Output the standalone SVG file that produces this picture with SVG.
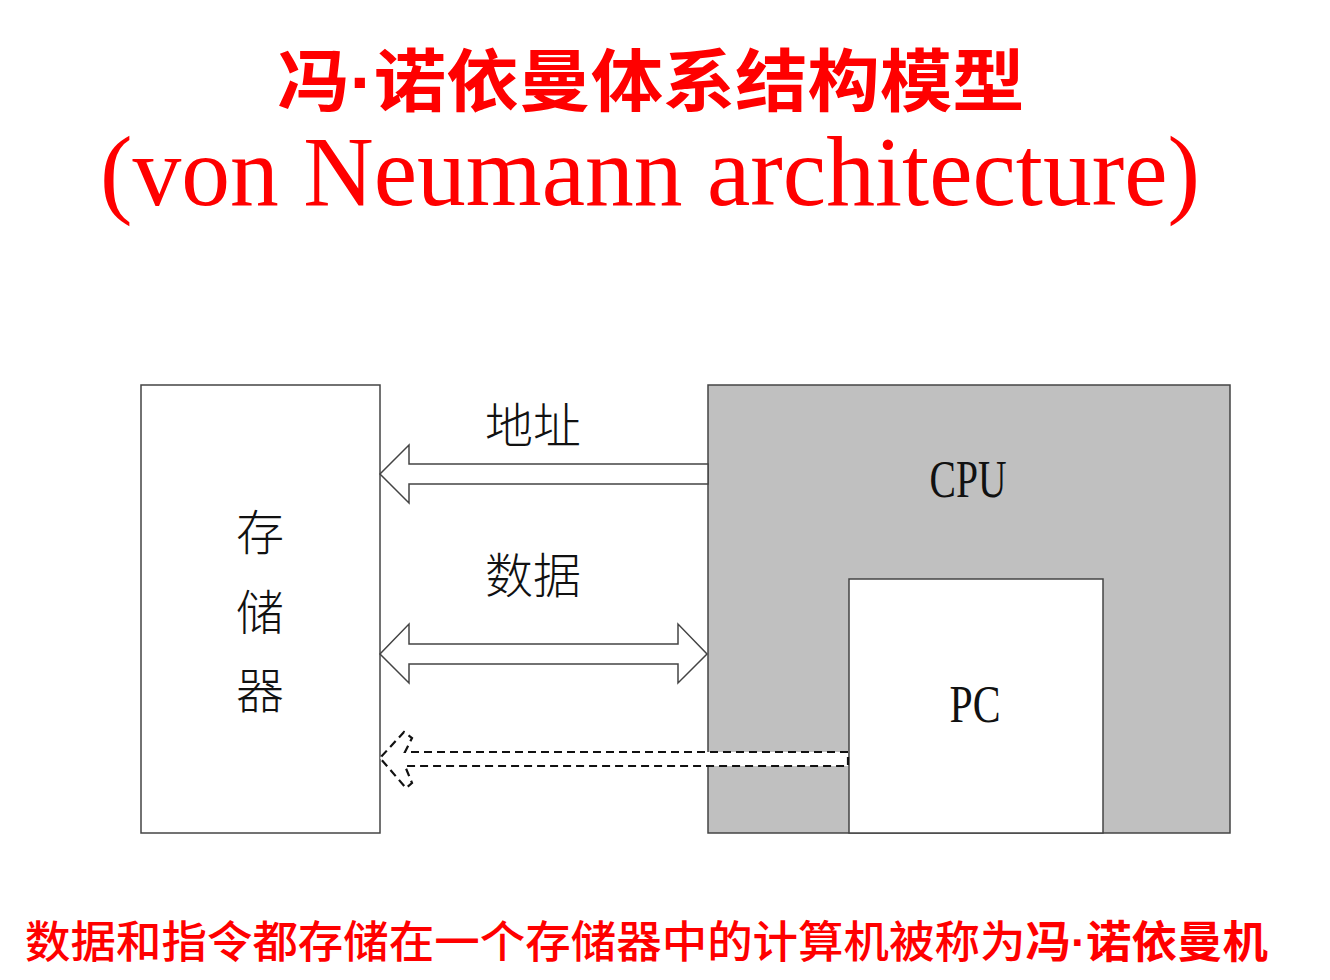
<svg xmlns="http://www.w3.org/2000/svg" width="1330" height="980" viewBox="0 0 1330 980">
<style>
.box{stroke:#444;stroke-width:1.5}
.cjk{font-family:"Noto Sans CJK SC","Noto Sans CJK JP",sans-serif}
.dot{font-family:"Liberation Sans",sans-serif}
.lbl{font-family:"Noto Sans CJK SC",sans-serif;font-size:48px;fill:#111;font-weight:300}
.lat{font-family:"Liberation Serif",serif;fill:#111}
.arr{fill:#fff;stroke:#444;stroke-width:1.5;stroke-linejoin:miter}
.dash{fill:#fff;stroke:#111;stroke-width:2.2;stroke-dasharray:8,5}
.red{fill:#ff0000}
</style>
<rect width="1330" height="980" fill="#fff"/>
<g id="title">
<text x="651" y="106" class="cjk red" font-size="68" font-weight="bold" text-anchor="middle" textLength="747" lengthAdjust="spacingAndGlyphs">冯<tspan class="dot">·</tspan>诺依曼体系结构模型</text>
<text x="650" y="205" font-family="Liberation Serif,serif" class="red" font-size="100" text-anchor="middle" textLength="1100" lengthAdjust="spacingAndGlyphs">(von Neumann architecture)</text>
</g>
<g id="memory">
<rect class="box" x="141" y="385" width="239" height="448" fill="#fff"/>
<text class="lbl" x="260" y="550" text-anchor="middle">存</text>
<text class="lbl" x="260" y="630" text-anchor="middle">储</text>
<text class="lbl" x="260" y="708" text-anchor="middle">器</text>
</g>
<g id="cpu">
<rect class="box" x="708" y="385" width="522" height="448" fill="#c0c0c0"/>
<text class="lat" x="968" y="497" font-size="52" text-anchor="middle" textLength="77" lengthAdjust="spacingAndGlyphs">CPU</text>
</g>
<g id="pc">
<rect class="box" x="849" y="579" width="254" height="254" fill="#fff"/>
<text class="lat" x="975" y="722" font-size="52" text-anchor="middle" textLength="51" lengthAdjust="spacingAndGlyphs">PC</text>
</g>
<g id="connectors">
<polygon class="arr" points="708,464 409,464 409,445 380,474 409,503 409,484 708,484"/>
<polygon class="arr" points="409,644 409,624 380,654 409,683 409,664 678,664 678,683 707,654 678,624 678,644"/>
<polygon class="dash" points="848,752 405,752 412,738 404,732 380,758 406,788 412,783 405,766 848,766"/>
</g>
<g id="labels">
<text class="lbl" x="533" y="443" text-anchor="middle">地址</text>
<text class="lbl" x="533" y="593" text-anchor="middle">数据</text>
</g>
<g id="caption">
<text x="25" y="958" class="cjk red" font-size="44" font-weight="500" textLength="1243" lengthAdjust="spacingAndGlyphs">数据和指令都存储在一个存储器中的计算机被称为<tspan font-weight="bold">冯<tspan class="dot">·</tspan>诺依曼机</tspan></text>
</g>
</svg>
